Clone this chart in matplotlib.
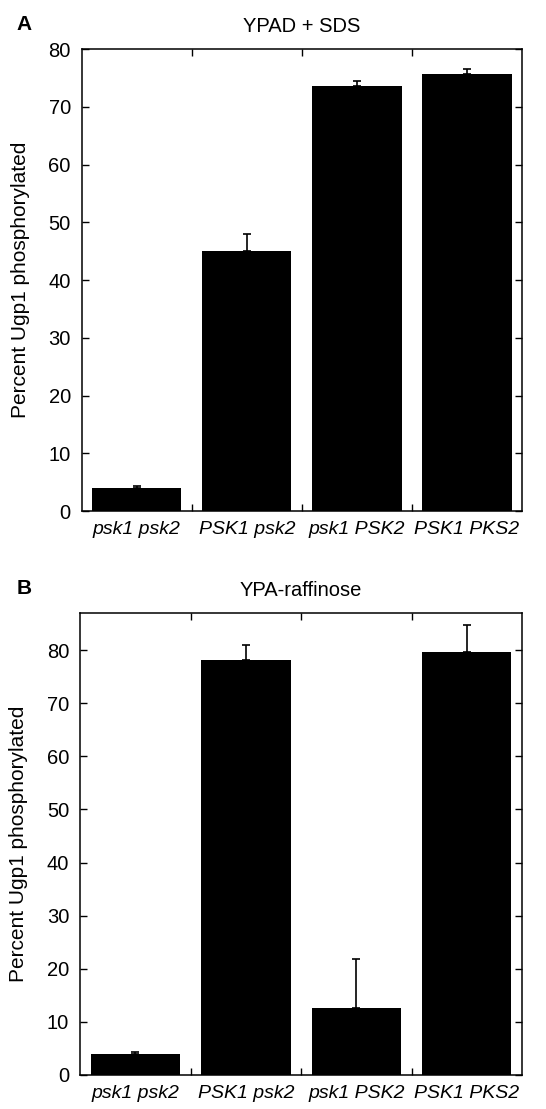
import matplotlib
matplotlib.use("Agg")
import matplotlib.pyplot as plt
import numpy as np

plt.rcParams['font.family'] = ['Liberation Sans', 'DejaVu Sans']

categories = ["psk1 psk2", "PSK1 psk2", "psk1 PSK2", "PSK1 PKS2"]
values_a = [4.0, 45.0, 73.6, 75.6]
err_a = [0.3, 3.0, 0.8, 0.9]
values_b = [4.0, 78.2, 12.6, 79.6]
err_b = [0.3, 2.8, 9.2, 5.1]
yticks = [0, 10, 20, 30, 40, 50, 60, 70, 80]

fig = plt.figure(figsize=(5.46, 11.09), dpi=100)
FS = 14.5

def panel(rect, vals, errs, title, letter, ymax):
    ax = fig.add_axes(rect)
    x = np.arange(len(categories))
    ax.bar(x, vals, width=0.81, color='black', edgecolor='none', zorder=2)
    ax.errorbar(x, vals, yerr=[np.zeros(len(errs)), errs], fmt='none',
                ecolor='black', elinewidth=1.2, capsize=3, capthick=1.2, zorder=3)
    ax.set_xlim(-0.5, len(categories) - 0.5)
    ax.set_ylim(0, ymax)
    ax.set_yticks(yticks)
    ax.set_xticks(np.arange(len(categories) - 1) + 0.5)
    ax.set_xticklabels([])
    ax.set_xticks(x, minor=True)
    ax.set_xticklabels(categories, minor=True, style='italic', fontsize=FS - 0.5)
    ax.tick_params(axis='x', which='minor', length=0, pad=7)
    ax.tick_params(axis='x', which='major', direction='in', length=5, top=True, width=1)
    ax.tick_params(axis='y', direction='in', length=5, right=True, width=1, labelsize=FS, pad=8)
    for s in ax.spines.values():
        s.set_linewidth(1.1)
    ax.set_ylabel("Percent Ugp1 phosphorylated", fontsize=FS + 0.5)
    ax.yaxis.set_label_coords(-0.118, 0.5)
    ax.set_title(title, fontsize=FS, pad=12)
    fig.text(0.03, rect[1] + rect[3] + 0.022, letter, fontsize=15, fontweight='bold',
             va='center', ha='left')
    return ax

panel([0.150, 0.5392, 0.806, 0.4166], values_a, err_a, "YPAD + SDS", "A", 80)
panel([0.147, 0.0307, 0.809, 0.4166], values_b, err_b, "YPA-raffinose", "B", 87)

fig.savefig("out.png", dpi=100)
